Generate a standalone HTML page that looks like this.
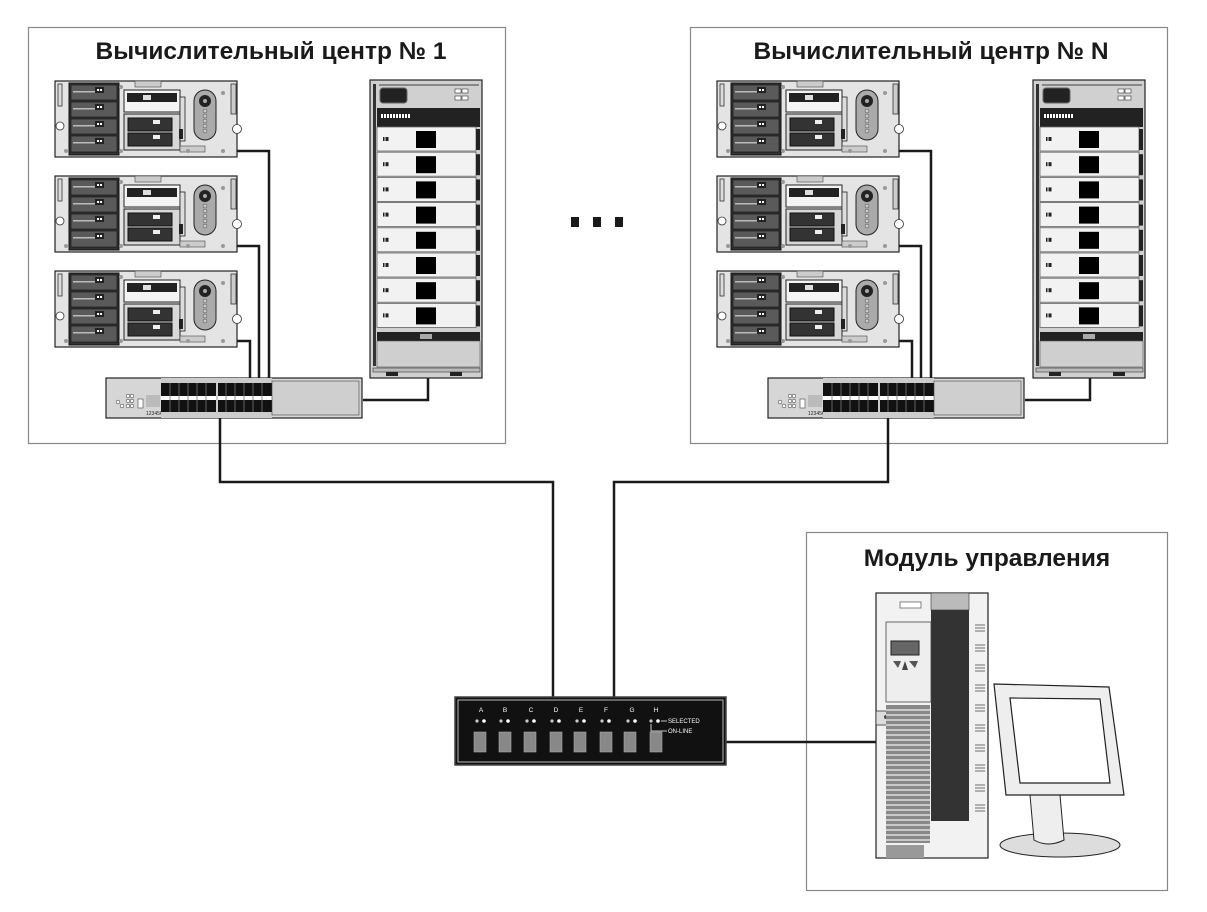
<!DOCTYPE html>
<html><head><meta charset="utf-8"><style>
html,body{margin:0;padding:0;background:#fff;}
svg{display:block;}
text{font-family:"Liberation Sans",sans-serif;}
</style></head><body>
<svg width="1207" height="912" viewBox="0 0 1207 912" xmlns="http://www.w3.org/2000/svg">
<defs>
<g id="srv">
  <rect x="0" y="0" width="182" height="76" fill="#e4e4e4" stroke="#222" stroke-width="1.2"/>
  <rect x="3" y="3" width="4" height="22" fill="#ddd" stroke="#333" stroke-width="0.8"/>
  <circle cx="5" cy="45" r="4" fill="#fff" stroke="#333" stroke-width="0.8"/>
  <rect x="14" y="2" width="50" height="72" fill="#333" stroke="#111"/>
  <g fill="#5a5a5a" stroke="#111" stroke-width="0.6">
    <rect x="16" y="4" width="46" height="15"/><rect x="16" y="21" width="46" height="15"/>
    <rect x="16" y="38" width="46" height="15"/><rect x="16" y="55" width="46" height="16"/>
  </g>
  <g fill="#bbb"><rect x="18" y="10" width="22" height="1.5"/><rect x="18" y="27" width="22" height="1.5"/><rect x="18" y="44" width="22" height="1.5"/><rect x="18" y="61" width="22" height="1.5"/></g>
  <g fill="#222"><rect x="40" y="6" width="9" height="6"/><rect x="40" y="23" width="9" height="6"/><rect x="40" y="40" width="9" height="6"/><rect x="40" y="57" width="9" height="6"/></g>
  <g fill="#fff"><rect x="42" y="8" width="2" height="2"/><rect x="45" y="8" width="2" height="2"/><rect x="42" y="25" width="2" height="2"/><rect x="45" y="25" width="2" height="2"/><rect x="42" y="42" width="2" height="2"/><rect x="45" y="42" width="2" height="2"/><rect x="42" y="59" width="2" height="2"/><rect x="45" y="59" width="2" height="2"/></g>
  <rect x="80" y="0" width="26" height="6" fill="#ccc" stroke="#444" stroke-width="0.6"/>
  <rect x="69" y="9" width="56" height="22" fill="#f4f4f4" stroke="#222"/>
  <rect x="72" y="12" width="50" height="9" fill="#222"/>
  <rect x="88" y="14" width="8" height="5" fill="#ddd"/>
  <rect x="69" y="33" width="56" height="36" fill="#d8d8d8" stroke="#222"/>
  <rect x="73" y="37" width="44" height="13" fill="#333" stroke="#111"/>
  <rect x="73" y="52" width="44" height="13" fill="#333" stroke="#111"/>
  <rect x="98" y="39" width="7" height="4" fill="#eee"/><rect x="98" y="54" width="7" height="4" fill="#eee"/>
  <rect x="125" y="16" width="5" height="44" fill="#ddd" stroke="#222" stroke-width="0.8"/>
  <rect x="124" y="48" width="4" height="10" fill="#222"/>
  <rect x="139" y="9" width="22" height="50" rx="11" fill="#aaa" stroke="#222"/>
  <circle cx="150" cy="20" r="6" fill="#222"/><circle cx="150" cy="20" r="2" fill="#aaa"/>
  <g fill="#ccc" stroke="#444" stroke-width="0.5"><circle cx="150" cy="30" r="2"/><circle cx="150" cy="35" r="2"/><circle cx="150" cy="40" r="2"/><circle cx="150" cy="45" r="2"/><circle cx="150" cy="50" r="2"/></g>
  <rect x="125" y="65" width="25" height="6" fill="#ccc" stroke="#444" stroke-width="0.6"/>
  <rect x="176" y="3" width="5" height="30" fill="#ccc" stroke="#333" stroke-width="0.8"/>
  <circle cx="182" cy="48" r="4.5" fill="#fff" stroke="#333" stroke-width="0.8"/>
  <g fill="#999"><circle cx="66" cy="6" r="2"/><circle cx="66" cy="70" r="2"/><circle cx="133" cy="70" r="2"/><circle cx="168" cy="70" r="2"/><circle cx="168" cy="12" r="2"/><circle cx="11" cy="70" r="2"/></g>
</g>
<g id="rack">
  <rect x="0" y="0" width="112" height="298" fill="#d0d0d0" stroke="#222" stroke-width="1.2"/>
  <rect x="3" y="4" width="3" height="282" fill="#333"/>
  <rect x="9" y="4" width="100" height="2" fill="#888"/>
  <rect x="10" y="8" width="27" height="15" rx="3" fill="#222" stroke="#666"/>
  <g fill="#fff" stroke="#333" stroke-width="0.6"><rect x="85" y="9" width="6" height="4"/><rect x="92" y="9" width="6" height="4"/><rect x="85" y="16" width="6" height="4"/><rect x="92" y="16" width="6" height="4"/></g>
  <rect x="7" y="28" width="103" height="19" fill="#222"/>
  <g fill="#fff"><rect x="11" y="34" width="2" height="4"/><rect x="14" y="34" width="2" height="4"/><rect x="17" y="34" width="2" height="4"/><rect x="20" y="34" width="2" height="4"/><rect x="23" y="34" width="2" height="4"/><rect x="26" y="34" width="2" height="4"/><rect x="29" y="34" width="2" height="4"/><rect x="32" y="34" width="2" height="4"/><rect x="35" y="34" width="2" height="4"/><rect x="38" y="34" width="2" height="4"/></g>
  <g id="drw">
    <rect x="7" y="47" width="99" height="24" fill="#f2f2f2" stroke="#666" stroke-width="0.8"/>
    <rect x="106" y="49" width="4" height="21" fill="#222"/>
    <rect x="46" y="51" width="20" height="17" fill="#000"/>
    <rect x="13" y="57" width="1.5" height="4" fill="#222"/><rect x="15.5" y="57" width="3" height="4" fill="#222"/>
  </g>
  <use href="#drw" y="25.2"/><use href="#drw" y="50.4"/><use href="#drw" y="75.6"/><use href="#drw" y="100.8"/><use href="#drw" y="126"/><use href="#drw" y="151.2"/><use href="#drw" y="176.4"/>
  <rect x="7" y="252" width="103" height="9" fill="#222"/>
  <rect x="50" y="254" width="12" height="5" fill="#aaa"/>
  <rect x="7" y="261" width="103" height="26" fill="#cfcfcf" stroke="#555" stroke-width="0.6"/>
  <rect x="3" y="288" width="107" height="4" fill="#bbb" stroke="#333" stroke-width="0.6"/>
  <rect x="16" y="292" width="12" height="4" fill="#222"/><rect x="80" y="292" width="12" height="4" fill="#222"/>
</g>
<g id="sw">
  <rect x="0" y="0" width="256" height="40" fill="#d6d6d6" stroke="#222" stroke-width="1.2"/>
  <g fill="#fff" stroke="#444" stroke-width="0.6"><circle cx="12" cy="24" r="1.8"/><circle cx="16" cy="28" r="1.8"/><circle cx="22" cy="18" r="1.8"/><circle cx="26" cy="18" r="1.8"/><circle cx="22" cy="23" r="1.8"/><circle cx="26" cy="23" r="1.8"/><circle cx="22" cy="28" r="1.8"/><circle cx="26" cy="28" r="1.8"/></g>
  <rect x="32" y="21" width="5" height="9" fill="#fff" stroke="#444" stroke-width="0.6"/>
  <rect x="40" y="17" width="14" height="12" fill="#bbb"/>
  <text x="40" y="37" font-size="5" fill="#222">123456</text>
  <rect x="55" y="4" width="111" height="32" fill="#111"/>
  <rect x="55" y="18" width="111" height="4" fill="#fff"/>
  <g stroke="#777" stroke-width="0.8"><path d="M64 5 V35 M73 5 V35 M82 5 V35 M91 5 V35 M100 5 V35 M120 5 V35 M129 5 V35 M138 5 V35 M147 5 V35 M156 5 V35"/></g>
  <rect x="110" y="4" width="2" height="32" fill="#ccc"/>
  <rect x="55" y="0" width="111" height="5" fill="#ccc"/>
  <rect x="55" y="34" width="111" height="6" fill="#ccc"/>
  <rect x="166" y="3" width="87" height="34" fill="#cfcfcf" stroke="#444" stroke-width="0.6"/>
</g>
</defs>

<rect x="28.5" y="27.5" width="477" height="416" fill="none" stroke="#888" stroke-width="1.2"/>
<rect x="690.5" y="27.5" width="477" height="416" fill="none" stroke="#888" stroke-width="1.2"/>
<rect x="806.5" y="532.5" width="361" height="358" fill="none" stroke="#888" stroke-width="1.2"/>
<text x="271" y="59" font-size="24.5" font-weight="bold" text-anchor="middle" fill="#1a1a1a">Вычислительный центр № 1</text>
<text x="931" y="59" font-size="24.5" font-weight="bold" text-anchor="middle" fill="#1a1a1a">Вычислительный центр № N</text>
<text x="987" y="566" font-size="24.5" font-weight="bold" text-anchor="middle" fill="#1a1a1a">Модуль управления</text>

<g fill="#1a1a1a"><rect x="571" y="217" width="8" height="10"/><rect x="593" y="217" width="8" height="10"/><rect x="615" y="217" width="8" height="10"/></g>

<g fill="none" stroke="#1a1a1a" stroke-width="2.5">
  <path d="M237 151 H269 V380"/><path d="M237 246 H259 V380"/><path d="M237 341 H250 V380"/>
  <path d="M899 151 H931 V380"/><path d="M899 246 H921 V380"/><path d="M899 341 H912 V380"/>
  <path d="M428 378 V400 H363"/><path d="M1090 378 V400 H1025"/>
  <path d="M220 418 V482 H553 V697"/>
  <path d="M888 418 V482 H614 V697"/>
  <path d="M726 742 H876"/>
</g>

<use href="#srv" x="55" y="81"/><use href="#srv" x="55" y="176"/><use href="#srv" x="55" y="271"/>
<use href="#srv" x="717" y="81"/><use href="#srv" x="717" y="176"/><use href="#srv" x="717" y="271"/>
<use href="#rack" x="370" y="80"/><use href="#rack" x="1033" y="80"/>
<use href="#sw" x="106" y="378"/><use href="#sw" x="768" y="378"/>

<rect x="455" y="697" width="271" height="68" fill="#111" stroke="#444" stroke-width="1.5"/>
<rect x="458" y="700" width="265" height="62" fill="none" stroke="#bbb" stroke-width="1"/>
<g font-size="6.5" fill="#fff" text-anchor="middle">
  <text x="481" y="712">A</text><text x="505" y="712">B</text><text x="531" y="712">C</text><text x="556" y="712">D</text><text x="581" y="712">E</text><text x="606" y="712">F</text><text x="632" y="712">G</text><text x="656" y="712">H</text>
</g>
<g fill="#ccc">
  <circle cx="477" cy="721" r="1.6"/><circle cx="484" cy="721" r="1.8" fill="#fff"/>
  <circle cx="501" cy="721" r="1.6"/><circle cx="508" cy="721" r="1.8" fill="#fff"/>
  <circle cx="527" cy="721" r="1.6"/><circle cx="534" cy="721" r="1.8" fill="#fff"/>
  <circle cx="552" cy="721" r="1.6"/><circle cx="559" cy="721" r="1.8" fill="#fff"/>
  <circle cx="577" cy="721" r="1.6"/><circle cx="584" cy="721" r="1.8" fill="#fff"/>
  <circle cx="602" cy="721" r="1.6"/><circle cx="609" cy="721" r="1.8" fill="#fff"/>
  <circle cx="628" cy="721" r="1.6"/><circle cx="635" cy="721" r="1.8" fill="#fff"/>
  <circle cx="651" cy="721" r="1.6"/><circle cx="658" cy="721" r="1.8" fill="#fff"/>
</g>
<g fill="#888" stroke="#aaa" stroke-width="0.6">
  <rect x="474" y="732" width="12" height="20"/><rect x="499" y="732" width="12" height="20"/><rect x="524" y="732" width="12" height="20"/><rect x="550" y="732" width="12" height="20"/><rect x="574" y="732" width="12" height="20"/><rect x="600" y="732" width="12" height="20"/><rect x="624" y="732" width="12" height="20"/><rect x="650" y="732" width="12" height="20"/>
</g>
<path d="M661 721 H667 M651 724 V731 H667" stroke="#fff" stroke-width="0.8" fill="none"/>
<text x="668" y="723" font-size="6" fill="#fff">SELECTED</text>
<text x="668" y="733" font-size="6" fill="#fff">ON-LINE</text>

<rect x="876" y="593" width="112" height="265" fill="#f2f2f2" stroke="#222" stroke-width="1.2"/>
<rect x="931" y="593" width="38" height="17" fill="#bbb" stroke="#333" stroke-width="0.6"/>
<rect x="931" y="610" width="38" height="211" fill="#333"/>
<rect x="900" y="602" width="21" height="6" fill="#fff" stroke="#666" stroke-width="0.8"/>
<rect x="886" y="622" width="45" height="80" fill="#eee" stroke="#444" stroke-width="0.8"/>
<rect x="891" y="641" width="28" height="14" fill="#666" stroke="#222"/>
<path d="M893 661 h8 l-3 7 z M909 661 h9 l-3 7 z" fill="#555"/>
<path d="M905 661 l-3 9 h6 z" fill="#444"/>
<rect x="876" y="711" width="14" height="14" fill="#ddd" stroke="#333" stroke-width="0.8"/>
<circle cx="886" cy="717" r="2" fill="#444"/>
<rect x="886" y="705" width="44" height="138" fill="#888"/>
<g stroke="#eee" stroke-width="1.2">
  <path d="M886 710 H930 M886 715 H930 M886 720 H930 M886 725 H930 M886 730 H930 M886 735 H930 M886 740 H930 M886 745 H930 M886 750 H930 M886 755 H930 M886 760 H930 M886 765 H930 M886 770 H930 M886 775 H930 M886 780 H930 M886 785 H930 M886 790 H930 M886 795 H930 M886 800 H930 M886 805 H930 M886 810 H930 M886 815 H930 M886 820 H930 M886 825 H930 M886 830 H930 M886 835 H930 M886 840 H930"/>
</g>
<rect x="886" y="845" width="38" height="13" fill="#999"/>
<g stroke="#444" stroke-width="0.8">
  <path d="M975 625 h10 M975 628 h10 M975 631 h10 M975 645 h10 M975 648 h10 M975 651 h10 M975 665 h10 M975 668 h10 M975 671 h10 M975 685 h10 M975 688 h10 M975 691 h10 M975 705 h10 M975 708 h10 M975 711 h10 M975 725 h10 M975 728 h10 M975 731 h10 M975 745 h10 M975 748 h10 M975 751 h10 M975 765 h10 M975 768 h10 M975 771 h10 M975 785 h10 M975 788 h10 M975 791 h10 M975 805 h10 M975 808 h10 M975 811 h10"/>
</g>
<ellipse cx="1060" cy="845" rx="60" ry="12" fill="#ddd" stroke="#222"/>
<path d="M1030 795 L1060 795 L1064 840 Q1048 848 1034 840 Z" fill="#eee" stroke="#222"/>
<path d="M994 684 L1109 687 L1124 795 L1006 795 Z" fill="#eee" stroke="#222" stroke-width="1.2"/>
<path d="M1010 698 L1100 699 L1110 783 L1020 783 Z" fill="#fff" stroke="#222" stroke-width="1.2"/>
</svg>
</body></html>
